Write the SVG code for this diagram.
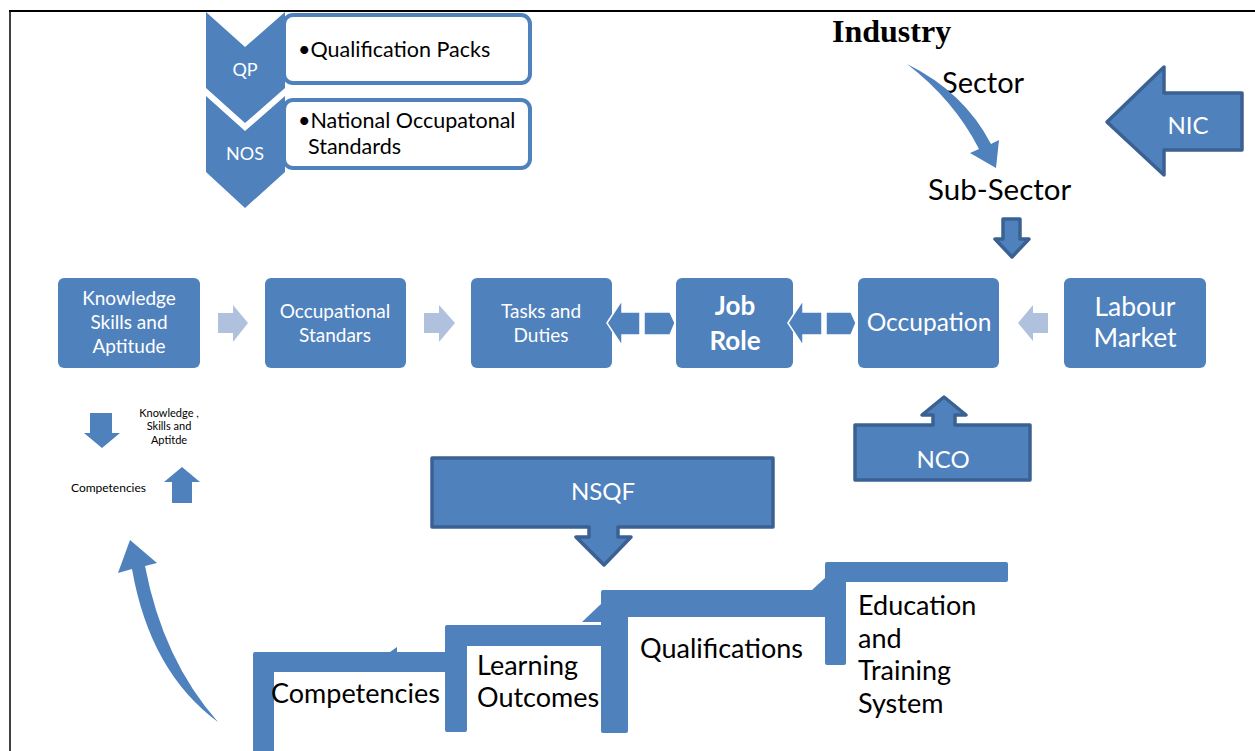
<svg xmlns="http://www.w3.org/2000/svg" width="1255" height="751" viewBox="0 0 1255 751">
  <defs>
    <style>
      .blue { fill: #4f81bd; }
      .dark { fill: #4f81bd; stroke: #3b6193; stroke-width: 3.5; stroke-linejoin: round; }
      .light { fill: #b0c1dd; }
      .notch { fill: #4f81bd; stroke: #ffffff; stroke-width: 1.5; stroke-linejoin: miter; }
      .card { fill: #ffffff; stroke: #4f81bd; stroke-width: 4; }
      .wt { font-family: Lato, "Open Sans", sans-serif; fill: #ffffff; text-anchor: middle; }
      .bk { font-family: Lato, "Open Sans", sans-serif; fill: #000000; }
      .bkc { font-family: Lato, "Open Sans", sans-serif; fill: #000000; text-anchor: middle; }
    </style>
  </defs>

  <rect x="0" y="0" width="1255" height="751" fill="#ffffff"/>

  <!-- page frame -->
  <g id="frame" stroke="#000000" fill="none">
    <line x1="9" y1="11" x2="1255" y2="11" stroke-width="2.2"/>
    <line x1="10" y1="10" x2="10" y2="751" stroke-width="1.5"/>
  </g>

  <!-- QP / NOS chevron list -->
  <g id="qp">
    <rect class="card" x="284" y="15" width="246" height="68" rx="9"/>
    <polygon class="blue" points="206,12 245,47 285,12 285,88 245,123 206,88"/>
    <text class="wt" x="245" y="76" font-size="18">QP</text>
    <text class="bk" x="298" y="57" font-size="21.5">•Qualification Packs</text>
  </g>
  <g id="nos">
    <rect class="card" x="284" y="100" width="246" height="68" rx="9"/>
    <polygon class="blue" points="206,96 245,131 285,96 285,172 245,208 206,172"/>
    <text class="wt" x="245" y="160" font-size="18">NOS</text>
    <text class="bk" x="298" y="128" font-size="21.5">•National Occupatonal</text>
    <text class="bk" x="308" y="154" font-size="21.5">Standards</text>
  </g>

  <!-- Industry / sector block -->
  <g id="industry">
    <text x="832" y="42" font-family="'Liberation Serif', serif" font-weight="bold" font-size="32" fill="#000000">Industry</text>
  </g>
  <g id="sector">
    <text class="bk" x="942" y="93" font-size="29">Sector</text>
  </g>
  <g id="sub-sector">
    <text class="bk" x="928" y="200" font-size="29.5">Sub-Sector</text>
  </g>
  <g id="nic">
    <path class="dark" d="M1107,122 L1164,67 L1164,93 L1242,93 L1242,150 L1164,150 L1164,175 Z"/>
    <text class="wt" x="1188" y="134" font-size="24">NIC</text>
  </g>

  <!-- main process row -->
  <g id="ksa">
    <rect class="blue" x="58" y="278" width="142" height="90" rx="6"/>
    <text class="wt" x="129" y="305" font-size="19">Knowledge</text>
    <text class="wt" x="129" y="329" font-size="19">Skills and</text>
    <text class="wt" x="129" y="353" font-size="19">Aptitude</text>
  </g>
  <g id="occupational-standards">
    <rect class="blue" x="265" y="278" width="141" height="90" rx="6"/>
    <text class="wt" x="335" y="318" font-size="19">Occupational</text>
    <text class="wt" x="335" y="342" font-size="19">Standars</text>
  </g>
  <g id="tasks">
    <rect class="blue" x="471" y="278" width="141" height="90" rx="6"/>
    <text class="wt" x="541" y="318" font-size="19">Tasks and</text>
    <text class="wt" x="541" y="342" font-size="19">Duties</text>
  </g>
  <g id="job-role">
    <rect class="blue" x="676" y="278" width="117" height="90" rx="6"/>
    <text class="wt" x="735" y="315" font-size="26" font-weight="bold">Job</text>
    <text class="wt" x="735" y="350" font-size="26" font-weight="bold">Role</text>
  </g>
  <g id="occupation">
    <rect class="blue" x="858" y="278" width="141" height="90" rx="6"/>
    <text class="wt" x="929" y="331" font-size="24.5">Occupation</text>
  </g>
  <g id="labour-market">
    <rect class="blue" x="1064" y="278" width="142" height="90" rx="6"/>
    <text class="wt" x="1135" y="316" font-size="26.5">Labour</text>
    <text class="wt" x="1135" y="347" font-size="26.5">Market</text>
  </g>

  <!-- NCO callout -->
  <g id="nco">
    <path class="dark" d="M855,425 L933,425 L933,415 L922,415 L944,397 L966,415 L955,415 L955,425 L1030,425 L1030,480 L855,480 Z"/>
    <text class="wt" x="943" y="468" font-size="24">NCO</text>
  </g>

  <!-- NSQF callout -->
  <g id="nsqf">
    <path class="dark" d="M432,458 L773,458 L773,527 L618,527 L618,537 L631,537 L604,565 L576,537 L589,537 L589,527 L432,527 Z"/>
    <text class="wt" x="603" y="500" font-size="24">NSQF</text>
  </g>

  <!-- competency cycle -->
  <g id="ksa-cycle">
    <text class="bkc" x="169" y="417" font-size="11">Knowledge ,</text>
    <text class="bkc" x="169" y="430" font-size="11">Skills and</text>
    <text class="bkc" x="169" y="444" font-size="11">Aptitde</text>
    <text class="bk" x="71" y="492" font-size="12">Competencies</text>
  </g>

  <!-- step-up staircase -->
  <g id="step-competencies">
    <path class="blue" d="M253,654 Q253,652 255,652 L447,652 L447,672 L274,672 L274,751 L253,751 Z"/>
    <polygon class="blue" points="390,652 397,647 397,652"/>
    <text class="bk" x="271" y="703" font-size="27">Competencies</text>
  </g>
  <g id="step-learning">
    <path class="blue" d="M445,627 Q445,625 447,625 L602,625 L602,646 L467,646 L467,730 Q467,732 465,732 L447,732 Q445,732 445,730 Z"/>
    <polygon class="blue" points="582,622 601,604 601,622"/>
    <text class="bk" x="477" y="675" font-size="27">Learning</text>
    <text class="bk" x="477" y="707" font-size="27">Outcomes</text>
  </g>
  <g id="step-qualifications">
    <path class="blue" d="M601,592 Q601,590 603,590 L827,590 L827,617 L628,617 L628,731 Q628,733 626,733 L603,733 Q601,733 601,731 Z"/>
    <polygon class="blue" points="812,590 826,577 826,590"/>
    <text class="bk" x="640" y="658" font-size="27">Qualifications</text>
  </g>
  <g id="step-education">
    <path class="blue" d="M825,564 Q825,562 827,562 L1006,562 Q1008,562 1008,564 L1008,580 Q1008,582 1006,582 L846,582 L846,663 Q846,665 844,665 L827,665 Q825,665 825,663 Z"/>
    <text class="bk" x="858" y="615" font-size="27">Education</text>
    <text class="bk" x="858" y="648" font-size="27">and</text>
    <text class="bk" x="858" y="680" font-size="27">Training</text>
    <text class="bk" x="858" y="713" font-size="27">System</text>
  </g>

  <!-- connectors -->
  <g id="connectors">
    <!-- process flow -->
    <polygon class="light" points="218,313 233,313 233,305 248,323 233,342 233,333 218,333"/>
    <polygon class="light" points="424,313 439,313 439,305 455,323 439,342 439,333 424,333"/>
    <polygon class="light" points="1048,313 1033,313 1033,305 1018,323 1033,341 1033,333 1048,333"/>
    <!-- notched arrows -->
    <path class="notch" d="M607,323 L622,300 L622,312 L640,312 L640,335 L622,335 L622,346 Z"/>
    <path class="notch" d="M644,312 L670,312 L675,323 L670,335 L644,335 Z"/>
    <path class="notch" d="M788,323 L803,300 L803,312 L822,312 L822,335 L803,335 L803,346 Z"/>
    <path class="notch" d="M826,312 L851,312 L856,323 L851,335 L826,335 Z"/>
    <!-- sector to sub-sector -->
    <path class="blue" d="M907,64 Q964,92 991,144 L999,140 L996,168 L970,153 L979,149 Q954,100 907,64 Z"/>
    <!-- sub-sector to occupation -->
    <path class="dark" stroke-width="2.5" d="M1003,219 L1020,219 L1020,239 L1029,239 L1012,257 L995,239 L1003,239 Z"/>
    <!-- knowledge / competencies -->
    <polygon class="blue" points="90,413 112,413 112,433 120,433 102,448 84,433 90,433"/>
    <polygon class="blue" points="172,503 192,503 192,482 200,482 182,467 164,482 172,482"/>
    <!-- staircase back to competencies -->
    <path class="blue" d="M218,722 Q150,672 132,569 L118,573 L130,540 L157,563 L145,566 Q163,660 218,722 Z"/>
  </g>
</svg>
